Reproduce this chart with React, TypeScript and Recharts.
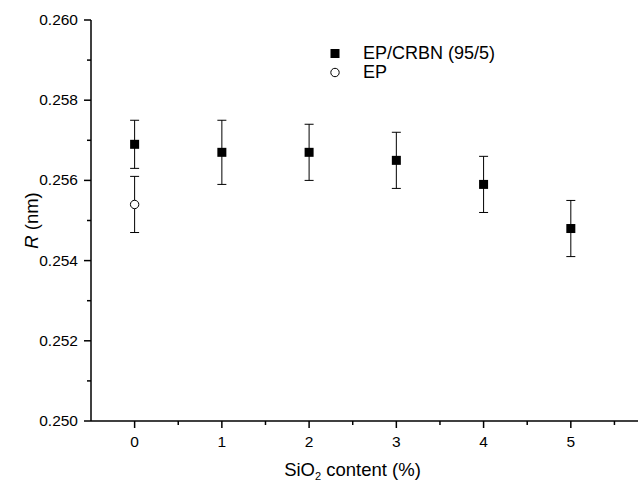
import React from "react";
import { ScatterChart, Scatter, XAxis, YAxis, ErrorBar, Legend } from "recharts";

// SiO2 content (%) and bond length R (nm)
const siO2Content = [0, 1, 2, 3, 4, 5];
const rBlend = [0.2569, 0.2567, 0.2567, 0.2565, 0.2559, 0.2548];
const errBlend = [0.0006, 0.0008, 0.0007, 0.0007, 0.0007, 0.0007];

const epContent = [0];
const rEP = [0.2554];
const errEP = [0.0007];

const seriesNames = ["EP/CRBN (95/5)", "EP"];

const xTicks = [0, 0.5, 1, 1.5, 2, 2.5, 3, 3.5, 4, 4.5, 5, 5.5];
const xMajor = [0, 1, 2, 3, 4, 5];
const yTicks = [0.25, 0.251, 0.252, 0.253, 0.254, 0.255, 0.256, 0.257, 0.258, 0.259, 0.26];
const yMajor = [0.25, 0.252, 0.254, 0.256, 0.258, 0.26];

const blendData = siO2Content.map((x, i) => ({ x, r: rBlend[i], err: errBlend[i] }));
const epData = epContent.map((x, i) => ({ x, r: rEP[i], err: errEP[i] }));

const FONT = "'Liberation Sans', Arial, Helvetica, sans-serif";
const TICK_SIZE = 6;

const XTick = (props: any) => {
  const { x, y, payload } = props;
  const major = xMajor.includes(payload.value);
  const axisY = y - TICK_SIZE;
  return (
    <g>
      <line x1={x} x2={x} y1={axisY} y2={axisY + (major ? 7 : 4)} stroke="#000" strokeWidth={1.5} />
      {major && (
        <text x={x} y={axisY + 26} textAnchor="middle" fontSize={15.5} fontFamily={FONT} fill="#000">
          {payload.value}
        </text>
      )}
    </g>
  );
};

const YTick = (props: any) => {
  const { x, y, payload } = props;
  const major = yMajor.includes(payload.value);
  const axisX = x + TICK_SIZE;
  return (
    <g>
      <line x1={axisX - (major ? 7 : 4)} x2={axisX} y1={y} y2={y} stroke="#000" strokeWidth={1.5} />
      {major && (
        <text x={axisX - 13} y={y + 5} textAnchor="end" fontSize={15.5} fontFamily={FONT} fill="#000">
          {payload.value.toFixed(3)}
        </text>
      )}
    </g>
  );
};

const SquareDot = (props: any) => {
  const { cx, cy } = props;
  return <rect x={cx - 4.5} y={cy - 4.5} width={9} height={9} fill="#000" />;
};

const CircleDot = (props: any) => {
  const { cx, cy } = props;
  return <circle cx={cx} cy={cy} r={4.2} fill="#fff" stroke="#000" strokeWidth={1} />;
};

const renderLegend = (props: any) => {
  const items = [...(props.payload || [])].sort(
    (a: any, b: any) => seriesNames.indexOf(a.value) - seriesNames.indexOf(b.value)
  );
  return (
    <div style={{ fontFamily: FONT, fontSize: 18, color: "#000" }}>
      {items.map((entry: any) => (
        <div key={entry.value} style={{ display: "flex", alignItems: "center", height: 19 }}>
          <svg width={38} height={19} style={{ flex: "none" }}>
            {entry.type === "square" ? (
              <rect x={5.5} y={5} width={9} height={9} fill="#000" />
            ) : (
              <circle cx={10} cy={9.5} r={4.2} fill="#fff" stroke="#000" strokeWidth={1} />
            )}
          </svg>
          <span style={{ lineHeight: "19px", whiteSpace: "nowrap" }}>{entry.value}</span>
        </div>
      ))}
    </div>
  );
};

const YLabel = (props: any) => {
  const { viewBox } = props;
  const cy = viewBox.y + viewBox.height / 2;
  const cx = 38;
  return (
    <text
      x={cx}
      y={cy}
      transform={`rotate(-90, ${cx}, ${cy})`}
      textAnchor="middle"
      fontSize={18.5}
      fontFamily={FONT}
      fill="#000"
    >
      <tspan fontStyle="italic">R</tspan>
      <tspan> (nm)</tspan>
    </text>
  );
};

const XLabel = (props: any) => {
  const { viewBox } = props;
  const cx = viewBox.x + viewBox.width / 2 - 12;
  return (
    <text x={cx} y={476} textAnchor="middle" fontSize={18.5} fontFamily={FONT} fill="#000">
      <tspan>SiO</tspan>
      <tspan fontSize={11} dy={4}>2</tspan>
      <tspan dy={-4}> content (%)</tspan>
    </text>
  );
};

export default function App() {
  return (
    <div style={{ position: "absolute", left: 0, top: 0, background: "#fff" }}>
      <ScatterChart width={638} height={483} margin={{ top: 20, right: 0, bottom: 0, left: 0 }}>
        <XAxis
          type="number"
          dataKey="x"
          domain={[-0.5, 5.77]}
          allowDataOverflow
          ticks={xTicks}
          interval={0}
          tick={<XTick />}
          tickLine={false}
          tickSize={TICK_SIZE}
          tickMargin={0}
          height={62}
          axisLine={{ stroke: "#000", strokeWidth: 1.5 }}
          label={<XLabel />}
        />
        <YAxis
          type="number"
          dataKey="r"
          domain={[0.25, 0.26]}
          allowDataOverflow
          ticks={yTicks}
          interval={0}
          tick={<YTick />}
          tickLine={false}
          tickSize={TICK_SIZE}
          tickMargin={0}
          width={91}
          axisLine={{ stroke: "#000", strokeWidth: 1.5 }}
          label={<YLabel />}
        />
        <Legend
          layout="vertical"
          align="center"
          verticalAlign="middle"
          content={renderLegend}
          wrapperStyle={{ left: 325, top: 44, width: "auto", height: "auto" }}
        />
        <Scatter
          name={seriesNames[0]}
          data={blendData}
          shape={<SquareDot />}
          legendType="square"
          isAnimationActive={false}
        >
          <ErrorBar dataKey="err" direction="y" width={4.5} stroke="#000" strokeWidth={1} />
        </Scatter>
        <Scatter
          name={seriesNames[1]}
          data={epData}
          shape={<CircleDot />}
          legendType="circle"
          isAnimationActive={false}
        >
          <ErrorBar dataKey="err" direction="y" width={4.5} stroke="#000" strokeWidth={1} />
        </Scatter>
      </ScatterChart>
    </div>
  );
}
